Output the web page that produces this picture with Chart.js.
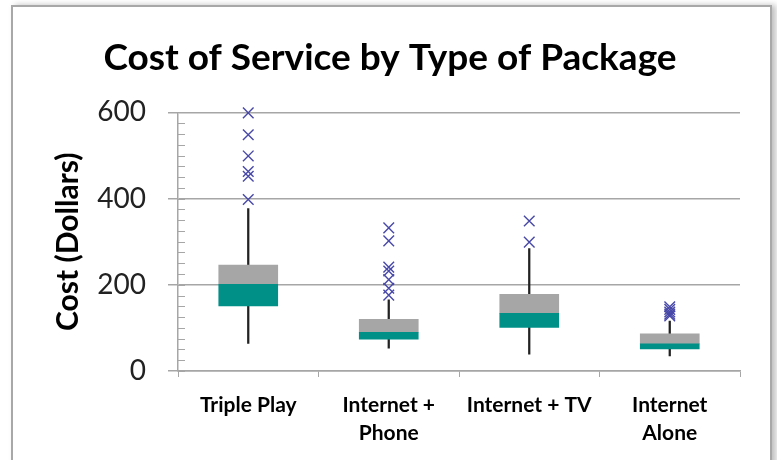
<!DOCTYPE html>
<html>
<head>
<meta charset="utf-8">
<script src="https://cdn.jsdelivr.net/npm/chart.js@4.4.1/dist/chart.umd.min.js"></script>
<style>
  html, body { margin: 0; padding: 0; background: #fff; overflow: hidden; }
  #frame {
    position: absolute; left: 11px; top: 5px; width: 757px; height: 470px;
    border: 2px solid #a8a8a8; background: #fff;
    box-shadow: 4px 0 6px rgba(0,0,0,0.25);
  }
  #wrap { position: absolute; left: 0; top: 0; width: 777px; height: 460px; }
</style>
</head>
<body>
<div id="frame"></div>
<div id="wrap"><canvas id="boxChart" width="777" height="460"></canvas></div>
<script>
const categories = ["Triple Play", ["Internet +", "Phone"], "Internet + TV", ["Internet", "Alone"]];
const whiskerLow = [64, 53, 39, 35];
const q1 = [151, 74, 101, 51];
const median = [201, 90, 134, 63];
const q3 = [246, 120, 178, 86];
const whiskerHigh = [377, 165, 284, 116];
const outliers = [
  [599, 548, 499, 463, 452, 398],
  [332, 302, 241, 232, 212, 192, 176],
  [348, 299],
  [149, 143, 137, 132, 128]
];
const yTicks = [0, 200, 400, 600];

const fontFam = "Lato, 'Open Sans', sans-serif";
const axisGray = "#a6a6a6";

// small inside ticks every 25 on the value axis
const minorTicks = {
  id: "minorTicks",
  afterDraw(chart) {
    const y = chart.scales.y;
    const ctx = chart.ctx;
    const left = chart.chartArea.left;
    ctx.save();
    ctx.strokeStyle = axisGray;
    ctx.lineWidth = 1;
    for (let v = 0; v <= 600; v += 25) {
      const py = Math.round(y.getPixelForValue(v)) + 0.5;
      ctx.beginPath();
      ctx.moveTo(left, py);
      ctx.lineTo(left + 7, py);
      ctx.stroke();
    }
    ctx.restore();
  }
};

new Chart(document.getElementById("boxChart"), {
  type: "bar",
  data: {
    labels: categories,
    datasets: [
      {
        label: "whisker",
        data: whiskerLow.map((v, i) => [v, whiskerHigh[i]]),
        backgroundColor: "#222",
        barThickness: 1.6,
        grouped: false,
        order: 3
      },
      {
        label: "lower box",
        data: q1.map((v, i) => [v, median[i]]),
        backgroundColor: "#009088",
        barThickness: 59,
        grouped: false,
        order: 2
      },
      {
        label: "upper box",
        data: median.map((v, i) => [v, q3[i]]),
        backgroundColor: "#a6a6a6",
        barThickness: 59,
        grouped: false,
        order: 2
      },
      {
        type: "line",
        label: "outliers",
        // x uses the same label object so the category scale finds it
        data: outliers.flatMap((arr, i) => arr.map(v => ({ x: categories[i], y: v }))),
        showLine: false,
        clip: false,
        pointStyle: "crossRot",
        pointRadius: 7.5,
        pointBorderWidth: 1.4,
        borderColor: "#4848a8",
        backgroundColor: "#4848a8",
        order: 1
      }
    ]
  },
  options: {
    responsive: false,
    animation: false,
    layout: { padding: { left: 40, right: 37, top: 0, bottom: 0 } },
    plugins: {
      legend: { display: false },
      tooltip: { enabled: false },
      title: {
        display: true,
        text: "Cost of Service by Type of Package",
        color: "#000",
        font: { family: fontFam, size: 37, weight: "bold", lineHeight: 1.2 },
        padding: { top: 36, bottom: 32 }
      }
    },
    scales: {
      x: {
        offset: true,
        grid: {
          offset: true,
          drawOnChartArea: false,
          color: axisGray,
          tickLength: 6
        },
        border: { color: axisGray, width: 1.5 },
        ticks: {
          color: "#000",
          padding: 14,
          maxRotation: 0,
          autoSkip: false,
          font: { family: fontFam, size: 21, weight: "bold", lineHeight: 1.35 }
        },
        afterFit(scale) { scale.height = 89; }
      },
      y: {
        min: 0,
        max: 600,
        afterBuildTicks(scale) { scale.ticks = yTicks.map(v => ({ value: v })); },
        grid: { color: axisGray, lineWidth: 1.5, tickLength: 10 },
        border: { color: axisGray, width: 1.5 },
        ticks: {
          color: "#222",
          padding: 22,
          font: { family: fontFam, size: 28 }
        },
        title: {
          display: true,
          text: "Cost (Dollars)",
          color: "#000",
          font: { family: fontFam, size: 30, weight: "bold", lineHeight: 1.2 },
          padding: { top: 10, bottom: 0 }
        },
        afterFit(scale) { scale.width = 138; }
      }
    }
  },
  plugins: [minorTicks]
});
</script>
</body>
</html>
